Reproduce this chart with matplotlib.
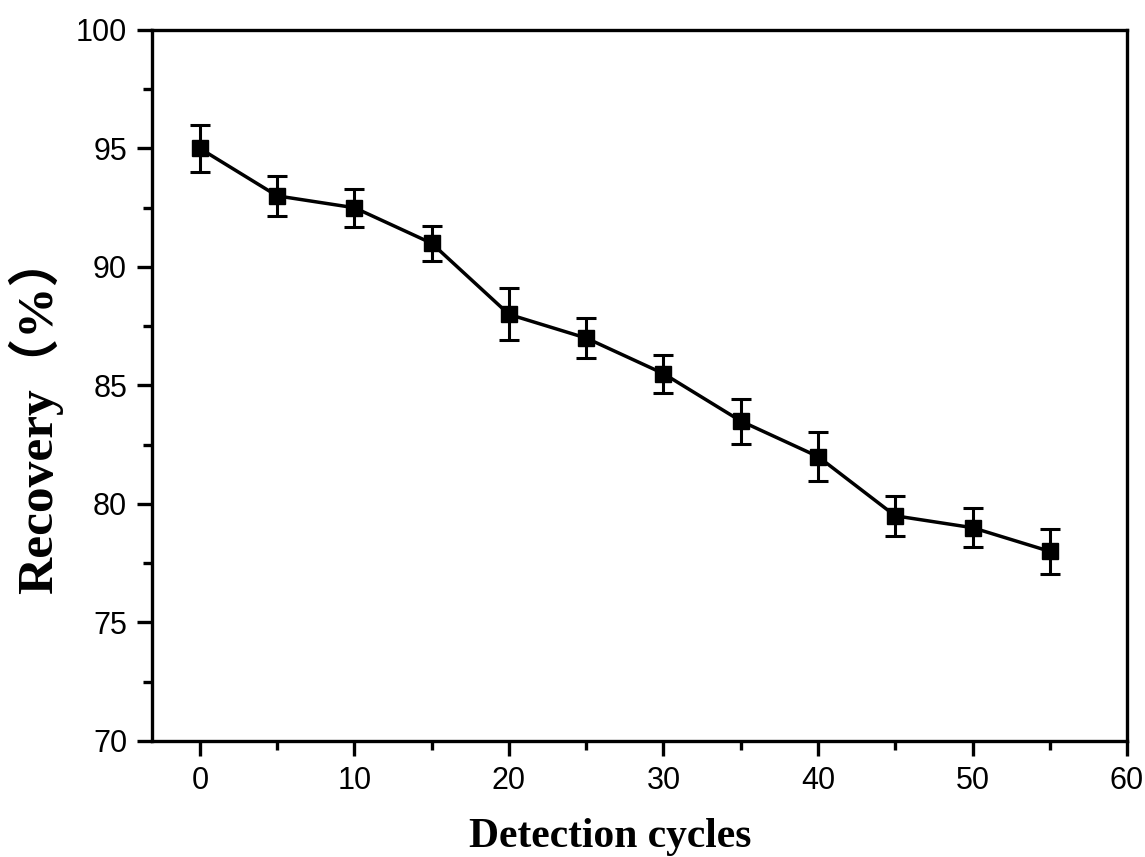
import matplotlib
matplotlib.use('Agg')
import matplotlib.pyplot as plt
from matplotlib.ticker import MultipleLocator

# data
cycles = [0, 5, 10, 15, 20, 25, 30, 35, 40, 45, 50, 55]
recovery = [95.0, 93.0, 92.5, 91.0, 88.0, 87.0, 85.5, 83.5, 82.0, 79.5, 79.0, 78.0]
recovery_err = [1.0, 0.85, 0.8, 0.75, 1.1, 0.85, 0.8, 0.95, 1.03, 0.85, 0.83, 0.95]

fig = plt.figure(figsize=(11.45, 8.57), dpi=100)
ax = fig.add_axes([0.1328, 0.1354, 0.8515, 0.8296])

ax.errorbar(cycles, recovery, yerr=recovery_err, color='black', marker='s',
            markersize=11, linewidth=2.5, elinewidth=2.2, capsize=7,
            capthick=2.2)

ax.set_xlim(-3.1, 60)
ax.set_ylim(70, 100)
ax.xaxis.set_major_locator(MultipleLocator(10))
ax.xaxis.set_minor_locator(MultipleLocator(5))
ax.yaxis.set_major_locator(MultipleLocator(5))
ax.yaxis.set_minor_locator(MultipleLocator(2.5))

for side in ax.spines.values():
    side.set_linewidth(2.4)
ax.tick_params(which='both', direction='out', width=2.4, top=False, right=False)
ax.tick_params(which='major', length=11, labelsize=22, pad=7)
ax.tick_params(which='minor', length=6.5)
for lab in ax.get_xticklabels() + ax.get_yticklabels():
    lab.set_family('Liberation Sans')

label_font = ['Liberation Serif', 'Noto Sans CJK SC']
ax.set_xlabel('Detection cycles', fontsize=30, fontweight='bold', family=label_font)
ax.set_ylabel('Recovery（%）', fontsize=37, fontweight='bold', family=label_font)
ax.xaxis.set_label_coords(0.47, -0.108)
ax.yaxis.set_label_coords(-0.091, 0.46)

fig.savefig('out.png', dpi=100)
